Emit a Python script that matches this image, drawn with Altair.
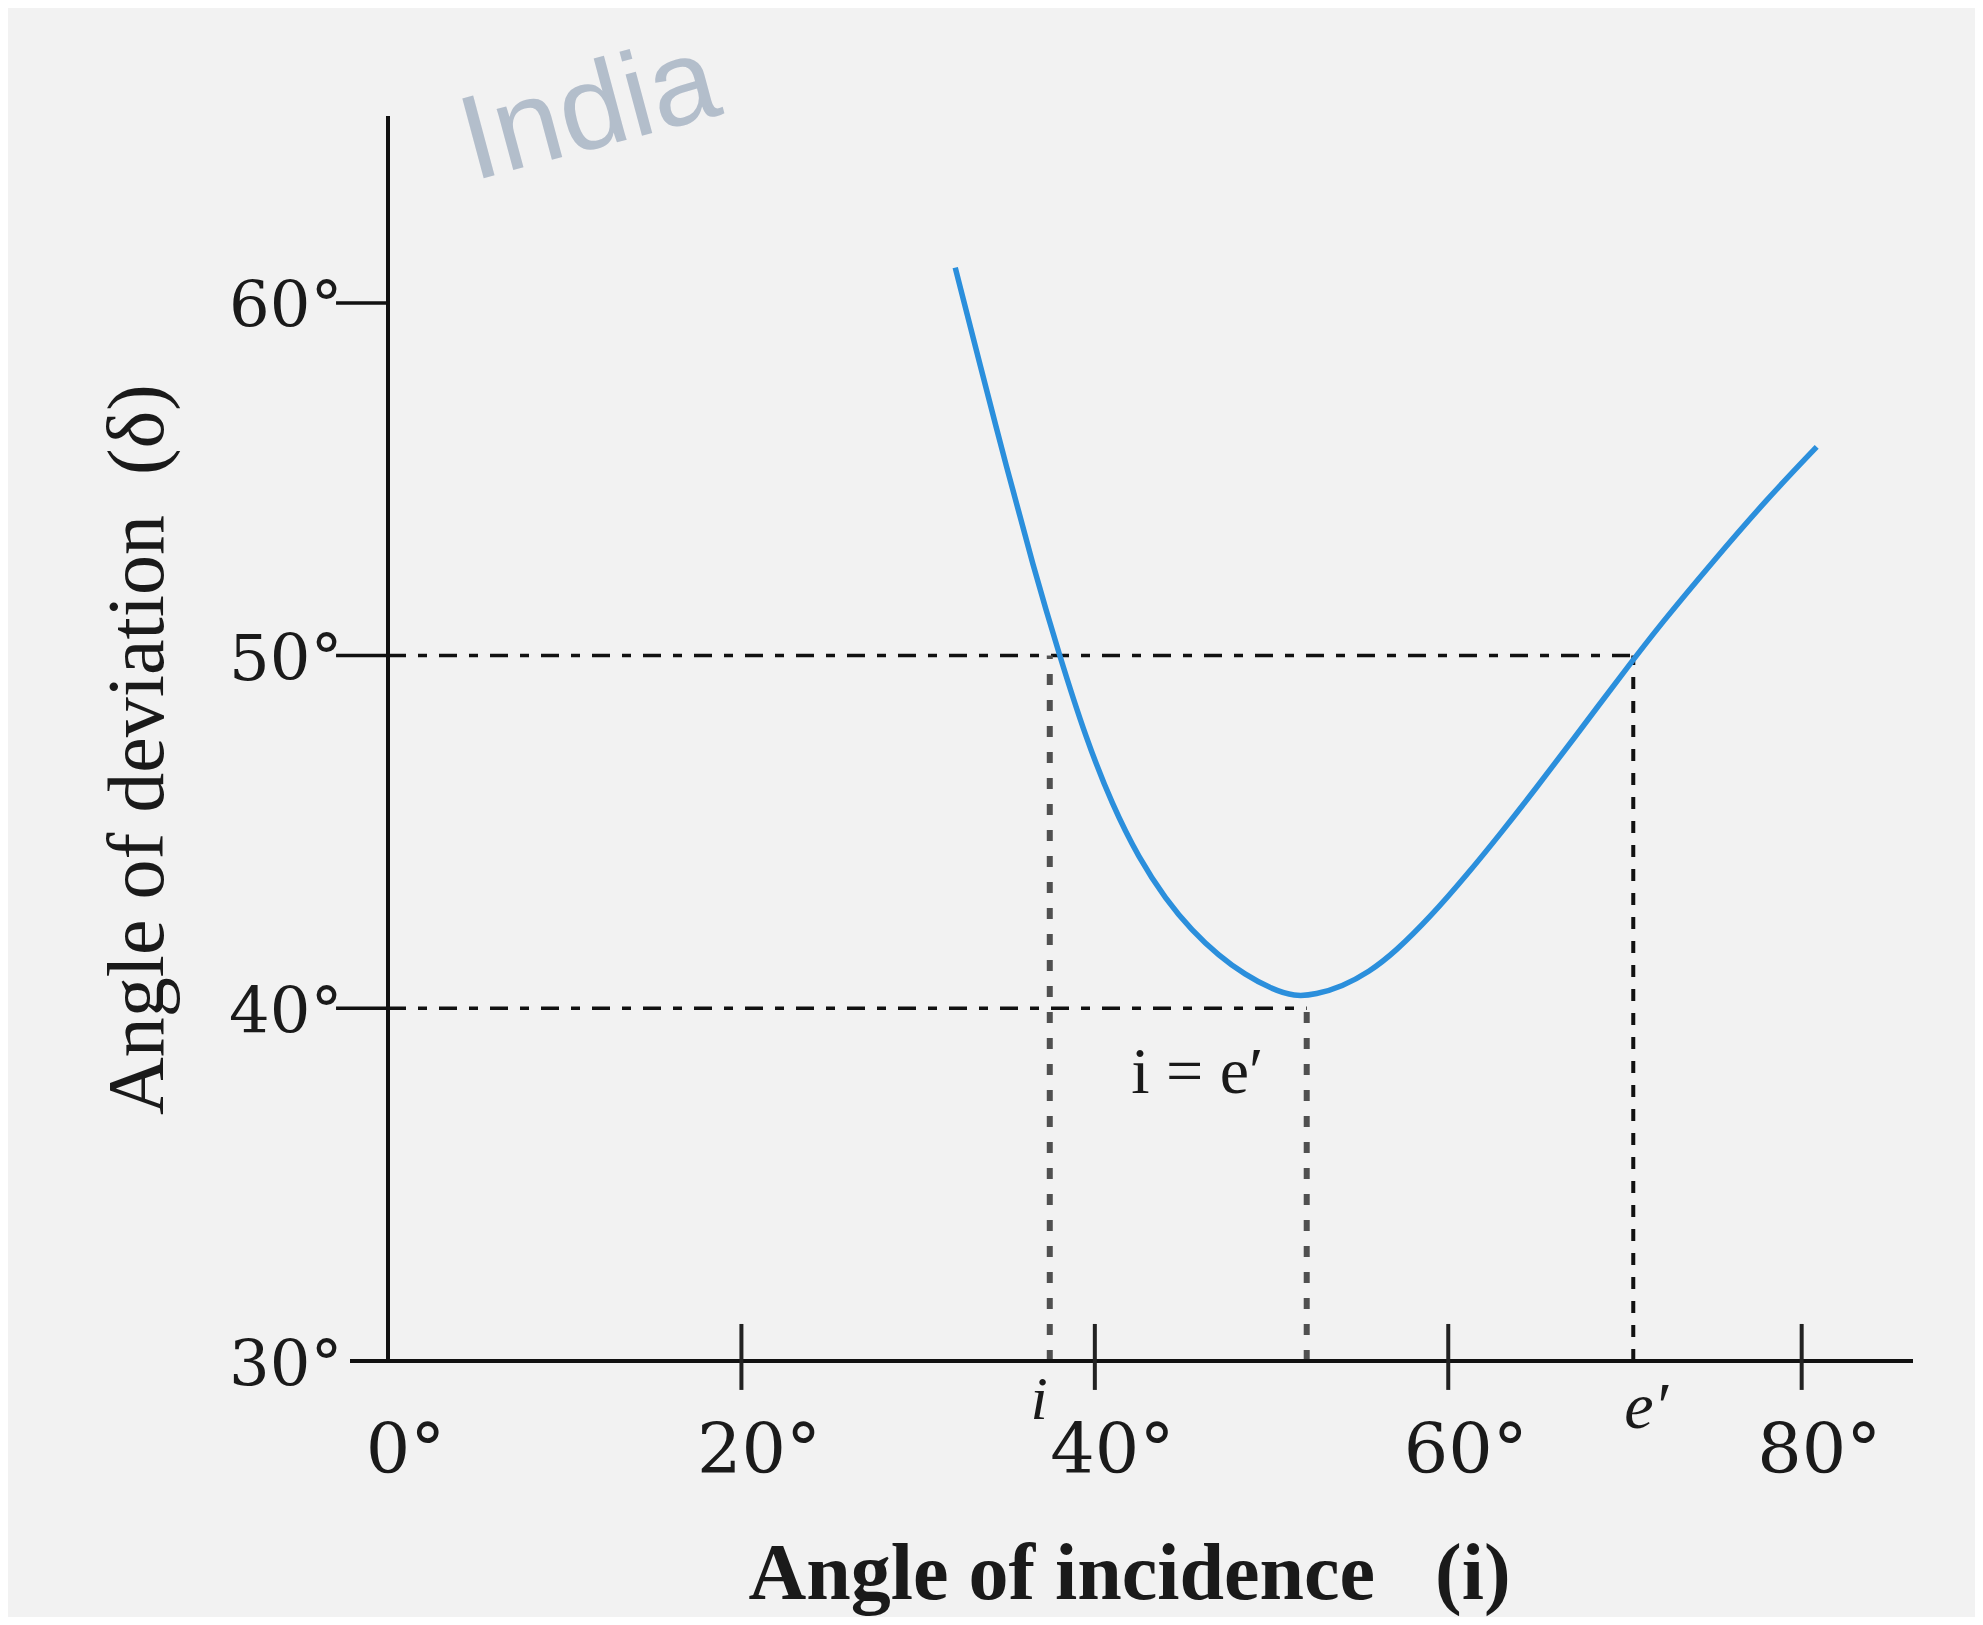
import altair as alt
import pandas as pd

# ---- data ----
curve_i = [32.1, 33.5, 35.0, 36.5, 38.0, 39.5, 41.0, 42.5, 44.0, 45.5, 47.0,
           48.5, 50.0, 51.3, 52.5, 54.0, 55.5, 57.0, 59.0, 61.0, 63.0, 65.0,
           67.0, 70.0, 72.0, 75.0, 78.0, 80.85]
curve_d = [61.0, 58.25, 55.35, 52.55, 50.0, 47.65, 45.75, 44.25, 43.1, 42.2,
           41.5, 40.95, 40.55, 40.33, 40.39, 40.62, 41.02, 41.6, 42.6, 43.75,
           44.98, 46.26, 47.58, 49.58, 50.88, 52.68, 54.42, 55.92]

x_tick_values = [0, 20, 40, 60, 80]
x_cross_ticks = [20, 40, 60, 80]
y_tick_values = [30, 40, 50, 60]
y_side_ticks = [40, 50, 60]

i_val = 37.45      # angle i where deviation = 50
i_min = 51.99      # i = e' at minimum deviation
e_val = 70.47      # e' where deviation = 50
d_min = 40
d_50 = 50

X_DOM = [0, 86.3]
Y_DOM = [30, 65.3]

curve = pd.DataFrame({"x": curve_i, "y": curve_d})

hlines = pd.DataFrame({"x": [0, 0], "x2": [e_val, i_min], "y": [d_50, d_min]})
vgray = pd.DataFrame({"x": [i_val, i_min], "y": [30, 30], "y2": [d_50, d_min]})
vblack = pd.DataFrame({"x": [e_val], "y": [30], "y2": [d_50]})

axis_lines_v = pd.DataFrame({"x": [0], "y": [30], "y2": [Y_DOM[1]]})
axis_lines_h = pd.DataFrame({"x": [-2.15], "x2": [X_DOM[1]], "y": [30]})

xt = pd.DataFrame({"x": x_cross_ticks, "y": [29.18] * 4, "y2": [31.05] * 4})
yt = pd.DataFrame({"x": [-2.94] * 3, "x2": [0] * 3, "y": y_side_ticks})

notes_mid = pd.DataFrame({"x": [45.8], "y": [37.6], "t": ["i = e\u2032"]})
notes_i = pd.DataFrame({"x": [36.85], "y": [28.36], "t": ["i"]})
notes_e = pd.DataFrame({"x": [71.2], "y": [28.1], "t": ["e\u2032"]})
wm = pd.DataFrame({"x": [11.4], "y": [65.4], "t": ["India"]})

NB = "\u00a0"
xaxis = alt.Axis(
    values=x_tick_values, labelExpr="datum.label + '°'", ticks=False,
    domain=False, grid=False, labelFont="DejaVu Serif", labelFontSize=70,
    labelColor="#1a1a1a", labelPadding=111, labelBaseline="alphabetic",
    labelOffset=17, labelFlush=False, labelOverlap=False,
    title="Angle of incidence" + NB * 3 + "(i)", titleFont="Liberation Serif",
    titleFontSize=80, titleFontWeight="bold", titleColor="#1a1a1a",
    titleX=741, titleY=237, titleAlign="center", titleBaseline="alphabetic",
)
yaxis = alt.Axis(
    values=y_tick_values, labelExpr="datum.label + '°'", ticks=False,
    domain=False, grid=False, labelFont="DejaVu Serif", labelFontSize=64,
    labelColor="#1a1a1a", labelPadding=46, labelAlign="right",
    labelBaseline="middle", labelOffset=5, labelFlush=False, labelOverlap=False,
    title="Angle of deviation" + NB * 2 + "(\u03b4)", titleFont="Liberation Serif",
    titleFontSize=80, titleFontWeight="normal", titleColor="#1a1a1a",
    titleAngle=270, titleX=-226, titleY=633, titleAlign="center",
    titleBaseline="alphabetic",
)

X = alt.X("x:Q", scale=alt.Scale(domain=X_DOM, nice=False, zero=False), axis=xaxis)
Y = alt.Y("y:Q", scale=alt.Scale(domain=Y_DOM, nice=False, zero=False), axis=yaxis)

curve_layer = alt.Chart(curve).mark_line(
    color="#2b8fdc", strokeWidth=5.5, interpolate="basis"
).encode(x=X, y=Y)

h_layer = alt.Chart(hlines).mark_rule(
    color="#111111", strokeWidth=3.5, strokeDash=[18, 12, 9, 12]
).encode(x=X, x2="x2:Q", y=Y)

vg_layer = alt.Chart(vgray).mark_rule(
    color="#505050", strokeWidth=6, strokeDash=[11, 15]
).encode(x=X, y=Y, y2="y2:Q")

vb_layer = alt.Chart(vblack).mark_rule(
    color="#111111", strokeWidth=4, strokeDash=[12, 12]
).encode(x=X, y=Y, y2="y2:Q")

ax_v = alt.Chart(axis_lines_v).mark_rule(color="#111111", strokeWidth=4).encode(
    x=X, y=Y, y2="y2:Q")
ax_h = alt.Chart(axis_lines_h).mark_rule(color="#111111", strokeWidth=4).encode(
    x=X, x2="x2:Q", y=Y)

xt_layer = alt.Chart(xt).mark_rule(color="#222222", strokeWidth=4).encode(
    x=X, y=Y, y2="y2:Q")
yt_layer = alt.Chart(yt).mark_rule(color="#111111", strokeWidth=3.5).encode(
    x=X, x2="x2:Q", y=Y)

mid_text = alt.Chart(notes_mid).mark_text(
    font="Liberation Serif", fontSize=66, color="#1a1a1a",
    align="center", baseline="alphabetic"
).encode(x=X, y=Y, text="t:N")

i_text = alt.Chart(notes_i).mark_text(
    font="Liberation Serif", fontSize=62, fontStyle="italic", color="#1a1a1a",
    align="center", baseline="alphabetic"
).encode(x=X, y=Y, text="t:N")

e_text = alt.Chart(notes_e).mark_text(
    font="Liberation Serif", fontSize=66, fontStyle="italic", color="#1a1a1a",
    align="center", baseline="alphabetic"
).encode(x=X, y=Y, text="t:N")

wm_text = alt.Chart(wm).mark_text(
    font="Liberation Sans", fontSize=120, color="#a9b5c5", opacity=0.85,
    align="center", baseline="middle", angle=345
).encode(x=X, y=Y, text="t:N")

chart = alt.layer(
    wm_text, h_layer, vg_layer, vb_layer, curve_layer,
    ax_v, ax_h, xt_layer, yt_layer, mid_text, i_text, e_text,
).properties(
    width=1525, height=1245,
    autosize=alt.AutoSizeParams(type="none"),
    padding={"left": 380, "top": 108, "right": 62, "bottom": 256},
    background="#f2f2f2",
).configure_view(strokeWidth=0)

chart.save("out.html", embed_options={"renderer": "svg", "actions": False})
